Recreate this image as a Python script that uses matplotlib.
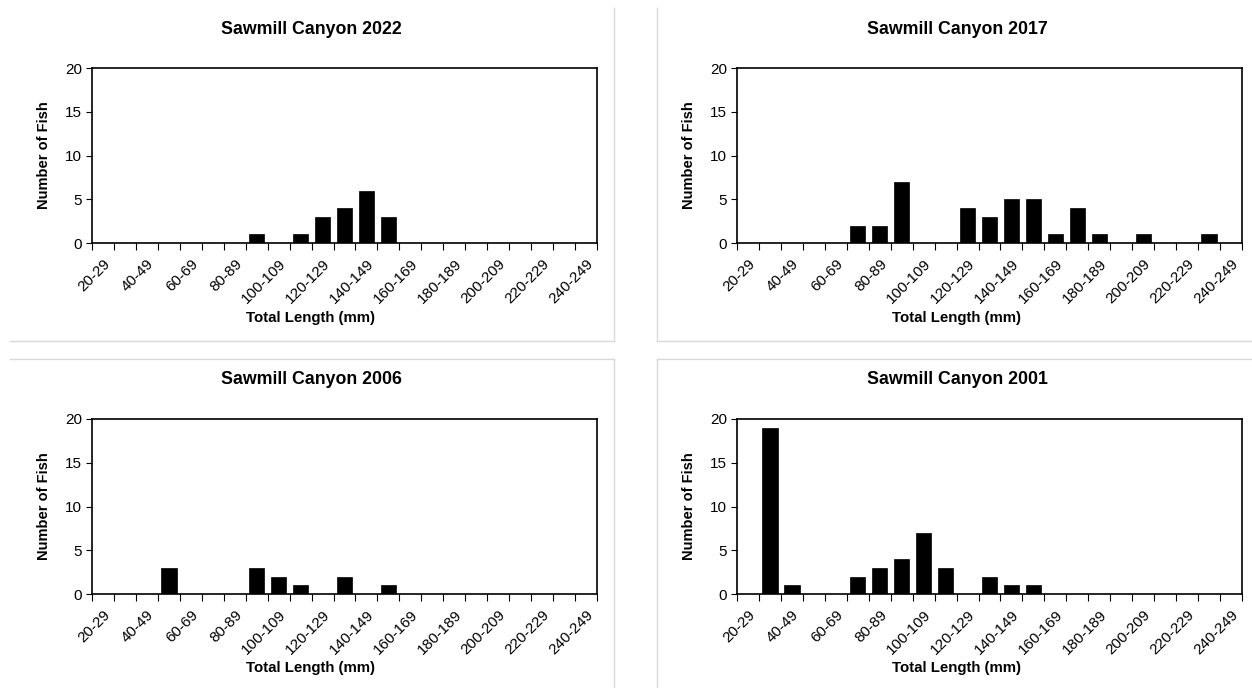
import matplotlib
matplotlib.use("Agg")
import matplotlib.pyplot as plt
from matplotlib.lines import Line2D
import numpy as np

plt.rcParams['font.family'] = ['Liberation Sans', 'DejaVu Sans']

# Length classes (mm), 10 mm bins
length_classes = [f"{lo}-{lo + 9}" for lo in range(20, 250, 10)]

counts_2022 = [0, 0, 0, 0, 0, 0, 0, 1, 0, 1, 3, 4, 6, 3, 0, 0, 0, 0, 0, 0, 0, 0, 0]
counts_2017 = [0, 0, 0, 0, 0, 2, 2, 7, 0, 0, 4, 3, 5, 5, 1, 4, 1, 0, 1, 0, 0, 1, 0]
counts_2006 = [0, 0, 0, 3, 0, 0, 0, 3, 2, 1, 0, 2, 0, 1, 0, 0, 0, 0, 0, 0, 0, 0, 0]
counts_2001 = [0, 19, 1, 0, 0, 2, 3, 4, 7, 3, 0, 2, 1, 1, 0, 0, 0, 0, 0, 0, 0, 0, 0]

panel_titles = ["Sawmill Canyon 2022", "Sawmill Canyon 2017",
                "Sawmill Canyon 2006", "Sawmill Canyon 2001"]
panel_counts = [counts_2022, counts_2017, counts_2006, counts_2001]

W, H = 1252, 688
fig = plt.figure(figsize=(W / 100, H / 100), dpi=100)

# plot areas in pixels: left, top, right, bottom
boxes = [(92, 68, 597, 243), (737, 68, 1242, 243),
         (92, 419, 597, 594), (737, 419, 1242, 594)]
# chart-area centre x, title y, x-axis-title y
chart_cx = [311, 957, 311, 957]
title_y = [30, 30, 380, 380]
xlab_y = [318, 318, 668, 668]

x = np.arange(len(length_classes))
for (l, t, r, b), title, vals, cx, ty, xy in zip(boxes, panel_titles, panel_counts,
                                               chart_cx, title_y, xlab_y):
    ax = fig.add_axes([l / W, 1 - b / H, (r - l) / W, (b - t) / H])
    ax.bar(x, vals, width=0.7, color='black', edgecolor='black', linewidth=0.5)
    ax.set_xlim(-0.5, len(length_classes) - 0.5)
    ax.set_ylim(0, 20)
    ax.set_yticks([0, 5, 10, 15, 20])
    ax.tick_params(axis='y', direction='out', length=4, width=0.8, labelsize=11, pad=3)
    ax.set_xticks(x[::2])
    ax.set_xticklabels(length_classes[::2], rotation=45, ha='right',
                       rotation_mode='anchor', fontsize=11)
    ax.tick_params(axis='x', which='major', length=0, pad=10)
    ax.set_xticks(np.arange(-0.5, len(length_classes), 1), minor=True)
    ax.tick_params(axis='x', which='minor', direction='out', length=5, width=0.8)
    for s in ax.spines.values():
        s.set_linewidth(1.2)
        s.set_color('black')
    ax.set_ylabel("Number of Fish", fontsize=10.5, fontweight='bold', labelpad=10)
    fig.text(cx / W, 1 - xy / H, "Total Length (mm)", ha='center', va='center',
             fontsize=10.8, fontweight='bold')
    fig.text(cx / W, 1 - ty / H, title, ha='center', va='center',
             fontsize=12.8, fontweight='bold')

# light chart-area borders
grey = '#d9d9d9'
def pline(xs, ys):
    fig.add_artist(Line2D([v / W for v in xs], [1 - v / H for v in ys],
                          color=grey, linewidth=1.0))

pline([10, 614], [341, 341])
pline([614, 614], [8, 341])
pline([657, 1252], [341, 341])
pline([657, 657], [8, 341])
pline([10, 614], [359, 359])
pline([614, 614], [359, 688])
pline([657, 1252], [359, 359])
pline([657, 657], [359, 688])

fig.savefig("out.png", dpi=100, facecolor='white')
